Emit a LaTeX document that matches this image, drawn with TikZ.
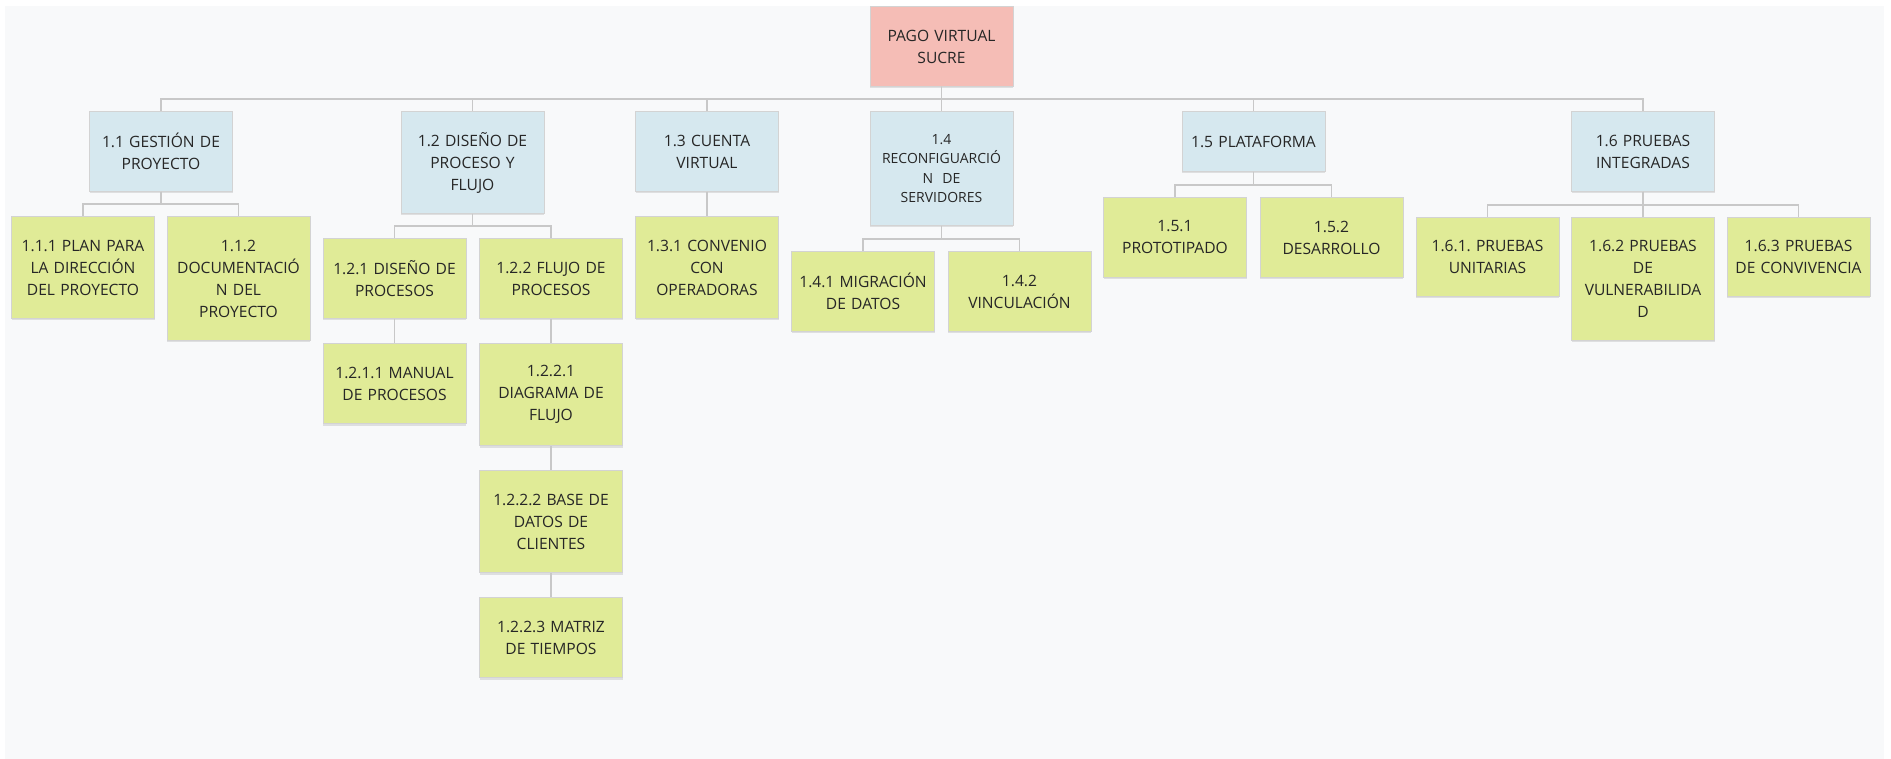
\documentclass[tikz,border=0pt]{standalone}
\usepackage{fontspec}
\setmainfont{Open Sans}
\usetikzlibrary{shadows}
\definecolor{bgc}{HTML}{F8F9FA}
\definecolor{rootc}{HTML}{F5BDB6}
\definecolor{bluec}{HTML}{D6E8EF}
\definecolor{greenc}{HTML}{E0EB97}
\definecolor{borderc}{HTML}{D3D3D3}
\definecolor{linec}{HTML}{C8C8C8}
\definecolor{txtc}{HTML}{262626}
\frenchspacing
\tikzset{
  box/.style={draw=borderc, line width=1pt, minimum width=143pt, inner sep=0pt,
    text width=140pt, align=center, anchor=north, text=txtc,
    font=\fontsize{15.6}{22}\selectfont,
    drop shadow={shadow xshift=0pt, shadow yshift=-2pt, opacity=0.10, fill=black}},
  rootbox/.style={box, fill=rootc},
  blubox/.style={box, fill=bluec},
  grnbox/.style={box, fill=greenc},
  conn/.style={draw=linec, line width=1.2pt},
}
\begin{document}
\begin{tikzpicture}[x=1pt,y=-1pt]
\useasboundingbox (0,0) rectangle (1891,759);
\fill[white] (0,0) rectangle (1891,759);
\fill[bgc] (5,6) rectangle (1884,759);

% root
\node[rootbox, minimum height=80pt] (r) at (941.5,6) {PAGO VIRTUAL\\SUCRE};

% level 1
\node[blubox, minimum height=80pt]  (n11) at (161,111)   {1.1 GESTIÓN DE\\PROYECTO};
\node[blubox, minimum height=102pt] (n12) at (472.5,111) {1.2 DISEÑO DE\\PROCESO Y\\FLUJO};
\node[blubox, minimum height=80pt]  (n13) at (707,111)   {1.3 CUENTA\\VIRTUAL};
\node[blubox, minimum height=114pt, font=\fontsize{14}{19.5}\selectfont] (n14) at (941.5,111) {1.4\\RECONFIGUARCIÓ\\N\ \ DE\\SERVIDORES};
\node[blubox, minimum height=60pt]  (n15) at (1253.5,111){1.5 PLATAFORMA};
\node[blubox, minimum height=80pt]  (n16) at (1643,111)  {1.6 PRUEBAS\\INTEGRADAS};

% level 2
\node[grnbox, minimum height=102pt] (n111) at (83,216)    {1.1.1 PLAN PARA\\LA DIRECCIÓN\\DEL PROYECTO};
\node[grnbox, minimum height=124pt] (n112) at (238.5,216) {1.1.2\\DOCUMENTACIÓ\\N DEL\\PROYECTO};
\node[grnbox, minimum height=80pt]  (n121) at (394.5,238) {1.2.1 DISEÑO DE\\PROCESOS};
\node[grnbox, minimum height=80pt]  (n122) at (551,238)   {1.2.2 FLUJO DE\\PROCESOS};
\node[grnbox, minimum height=102pt] (n131) at (707,216)   {1.3.1 CONVENIO\\CON\\OPERADORAS};
\node[grnbox, minimum height=80pt]  (n141) at (863,251)   {1.4.1 MIGRACIÓN\\DE DATOS};
\node[grnbox, minimum height=80pt]  (n142) at (1019.5,251){1.4.2\\VINCULACIÓN};
\node[grnbox, minimum height=80pt]  (n151) at (1175,197)  {1.5.1\\PROTOTIPADO};
\node[grnbox, minimum height=80pt]  (n152) at (1331.5,197){1.5.2\\DESARROLLO};
\node[grnbox, minimum height=79pt]  (n161) at (1487.5,217){1.6.1. PRUEBAS\\UNITARIAS};
\node[grnbox, minimum height=123pt] (n162) at (1643,217)  {1.6.2 PRUEBAS\\DE\\VULNERABILIDA\\D};
\node[grnbox, minimum height=79pt]  (n163) at (1798.5,217){1.6.3 PRUEBAS\\DE CONVIVENCIA};

% level 3 / 4
\node[grnbox, minimum height=80pt]  (n1211) at (394.5,343) {1.2.1.1 MANUAL\\DE PROCESOS};
\node[grnbox, minimum height=102pt] (n1221) at (551,343)   {1.2.2.1\\DIAGRAMA DE\\FLUJO};
\node[grnbox, minimum height=102pt] (n1222) at (551,470)   {1.2.2.2 BASE DE\\DATOS DE\\CLIENTES};
\node[grnbox, minimum height=80pt]  (n1223) at (551,597)   {1.2.2.3 MATRIZ\\DE TIEMPOS};

% connectors root -> level 1
\foreach \c in {n11,n12,n13,n14,n15,n16}
  \draw[conn] (r.south) |- ([yshift=12pt]\c.north) -- (\c.north);

% level 1 -> level 2
\foreach \p/\c in {n11/n111,n11/n112,n12/n121,n12/n122,n14/n141,n14/n142,n15/n151,n15/n152,n16/n161,n16/n162,n16/n163}
  \draw[conn] (\p.south) |- ([yshift=12pt]\c.north) -- (\c.north);

% straight verticals
\draw[conn] (n13.south) -- (n131.north);
\draw[conn] (n121.south) -- (n1211.north);
\draw[conn] (n122.south) -- (n1221.north);
\draw[conn] (n1221.south) -- (n1222.north);
\draw[conn] (n1222.south) -- (n1223.north);
\end{tikzpicture}
\end{document}
